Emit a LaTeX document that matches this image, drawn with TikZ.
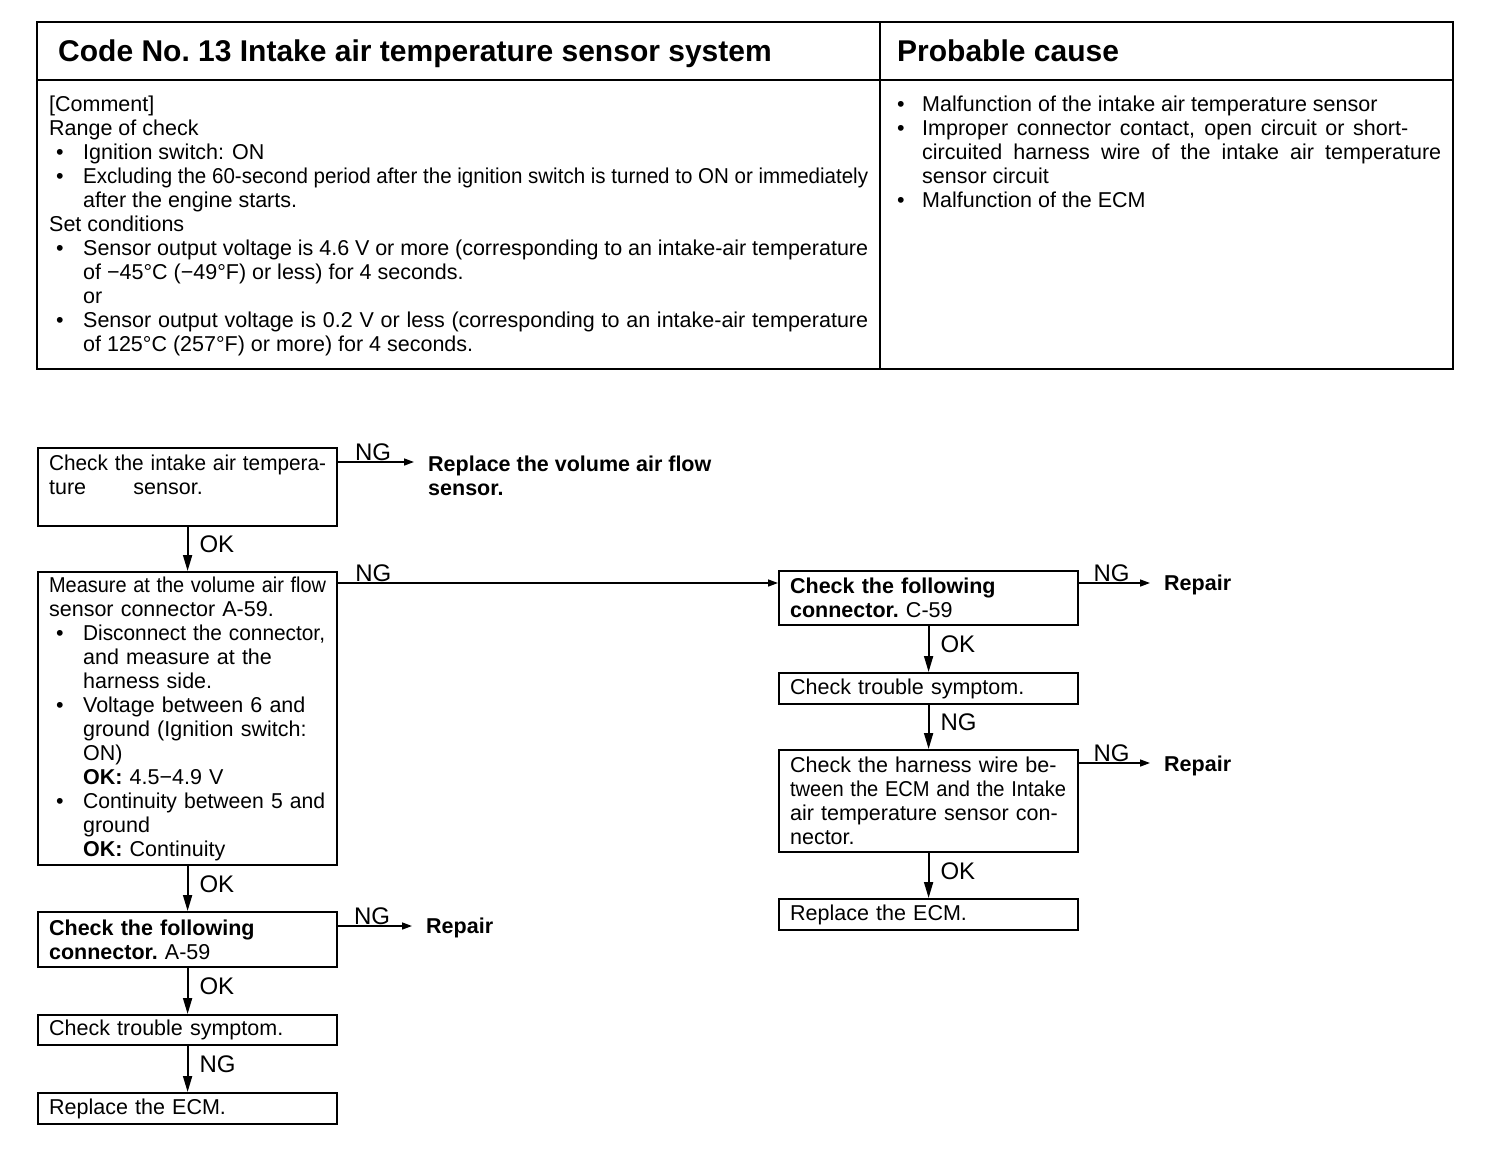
\documentclass[tikz,border=0pt]{standalone}
\usepackage{fontspec}
\usepackage{graphicx}
\setmainfont{Liberation Sans}
\usetikzlibrary{arrows.meta, positioning, calc}
\newcommand{\bodyfont}{\fontsize{21.5}{24}\selectfont}
\newcommand{\headfont}{\fontsize{30}{32}\selectfont\bfseries}
\newcommand{\tabbul}{\makebox[34pt][l]{\hspace{7pt}•}}
\newcommand{\tabind}{\hspace*{34pt}}
\newcommand{\causebul}{\makebox[33pt][l]{\hspace{8pt}•}}
\newcommand{\causeind}{\hspace*{33pt}}
% stretch a line to width / squeeze a line to width
\newcommand{\jline}[2]{\makebox[#1][s]{#2}}
\newcommand{\fitline}[2]{\resizebox{#1}{\height}{#2}}

\begin{document}
\begin{tikzpicture}[x=1pt, y=-1pt,
	box/.style={draw, line width=2.2pt, anchor=north west, minimum width=299pt, text width=277pt, inner xsep=11pt, inner ysep=2pt, align=left, font=\bodyfont},
	ans/.style={anchor=west, inner sep=0pt, align=left, font=\bodyfont\bfseries},
	lbl/.style={font=\fontsize{24}{26}\selectfont, inner sep=1pt},
	down/.style={-{Triangle[length=16pt,width=9pt]}, line width=1.8pt},
	side/.style={-{Triangle[length=10pt,width=7pt]}, line width=1.5pt, shorten >=14pt}]
	\useasboundingbox (0,0) rectangle (1504,1170);
	% Table frame
	\draw[line width=2.8pt] (37,22) rectangle (1453,369);
	\draw[line width=2.8pt] (37,80) -- (1453,80);
	\draw[line width=2pt] (880,22) -- (880,369);
	\node[anchor=base west, inner sep=0pt, font=\headfont] (title) at (58,61) {Code No.\ 13 Intake air temperature sensor system};
	\node[anchor=base west, inner sep=0pt, font=\headfont] (causehead) at (897,61) {Probable cause};
	% Table cells
	\node[anchor=north west, inner sep=0pt, align=left, font=\bodyfont] (comment) at (49,96) {[Comment]\\
		Range of check\\
		\tabbul Ignition switch: ON\\
		\tabbul \fitline{785pt}{Excluding the 60-second period after the ignition switch is turned to ON or immediately}\\
		\tabind after the engine starts.\\
		Set conditions\\
		\tabbul \jline{785pt}{Sensor output voltage is 4.6 V or more (corresponding to an intake-air temperature}\\
		\tabind of −45°C (−49°F) or less) for 4 seconds.\\
		\tabind or\\
		\tabbul \jline{785pt}{Sensor output voltage is 0.2 V or less (corresponding to an intake-air temperature}\\
		\tabind of 125°C (257°F) or more) for 4 seconds.};
	\node[anchor=north west, inner sep=0pt, align=left, font=\bodyfont] (cause) at (889,96) {\causebul Malfunction of the intake air temperature sensor\\
		\causebul \jline{486pt}{Improper connector contact, open circuit or short-}\\
		\causeind \jline{519pt}{circuited harness wire of the intake air temperature}\\
		\causeind sensor circuit\\
		\causebul Malfunction of the ECM};
	% Left column
	\node[box, minimum height=78pt] (intake) at (37,447) {\fitline{277pt}{Check the intake air tempera-}\\ ture\hspace{2.2em}sensor.\\ \mbox{}};
	\node[box, minimum height=293pt] (measure) at (37,571) {\fitline{277pt}{Measure at the volume air flow}\\
		sensor connector A-59.\\
		\tabbul \fitline{242pt}{Disconnect the connector,}\\
		\tabind \jline{242pt}{and measure at the}\\
		\tabind harness side.\\
		\tabbul \jline{242pt}{Voltage between 6 and}\\
		\tabind \jline{242pt}{ground (Ignition switch:}\\
		\tabind ON)\\
		\tabind \textbf{OK:} 4.5−4.9 V\\
		\tabbul \fitline{242pt}{Continuity between 5 and}\\
		\tabind ground\\
		\tabind \textbf{OK:} Continuity};
	\node[box, minimum height=55pt] (conA) at (37,911) {\textbf{Check the following}\\ \textbf{connector.}\ A-59};
	\node[box, minimum height=30pt] (symA) at (37,1014) {Check trouble symptom.};
	\node[box, minimum height=31pt] (ecmA) at (37,1092) {Replace the ECM.};
	% Right column
	\node[box, minimum height=54pt] (conC) at (778,570) {\textbf{Check the following}\\ \textbf{connector.}\ C-59};
	\node[box, minimum height=31pt] (symC) at (778,672) {Check trouble symptom.};
	\node[box, minimum height=102pt] (harness) at (778,749) {\jline{276pt}{Check the harness wire be-}\\ \fitline{276pt}{tween the ECM and the Intake}\\ \jline{276pt}{air temperature sensor con-}\\ nector.};
	\node[box, minimum height=31pt] (ecmC) at (778,898) {Replace the ECM.};
	% Results
	\node[ans, anchor=north west] (replaceVAF) at (428,456) {Replace the volume air flow\\ sensor.};
	\node[ans] (repairA) at (426,928) {Repair};
	\node[ans] (repairC1) at (1164,585) {Repair};
	\node[ans] (repairC2) at (1164,766) {Repair};
	% OK / NG connectors
	\coordinate (ngVAF) at ([yshift=-15pt]intake.north east);
	\coordinate (ngA) at ([yshift=-15pt]conA.north east);
	\coordinate (ngC1) at ([yshift=-13pt]conC.north east);
	\coordinate (ngC2) at ([yshift=-14pt]harness.north east);
	\draw[side] (ngVAF) -- (ngVAF -| replaceVAF.west) node[lbl, midway, above, xshift=-10pt] {NG};
	\draw[down] (intake.south) -- (measure.north) node[lbl, pos=0.4, right=10pt] {OK};
	\draw[side, shorten >=0pt] ([yshift=-12pt]measure.north east) -- ([yshift=-13pt]conC.north west) node[lbl, pos=0.08, above] {NG};
	\draw[down] (measure.south) -- (conA.north) node[lbl, pos=0.4, right=10pt] {OK};
	\draw[side] (ngA) -- (ngA -| repairA.west) node[lbl, midway, above, xshift=-10pt] {NG};
	\draw[down] (conA.south) -- (symA.north) node[lbl, pos=0.4, right=10pt] {OK};
	\draw[down] (symA.south) -- (ecmA.north) node[lbl, pos=0.4, right=10pt] {NG};
	\draw[side] (ngC1) -- (ngC1 -| repairC1.west) node[lbl, midway, above, xshift=-10pt] {NG};
	\draw[down] (conC.south) -- (symC.north) node[lbl, pos=0.4, right=10pt] {OK};
	\draw[down] (symC.south) -- (harness.north) node[lbl, pos=0.4, right=10pt] {NG};
	\draw[side] (ngC2) -- (ngC2 -| repairC2.west) node[lbl, midway, above, xshift=-10pt] {NG};
	\draw[down] (harness.south) -- (ecmC.north) node[lbl, pos=0.4, right=10pt] {OK};
\end{tikzpicture}
\end{document}
